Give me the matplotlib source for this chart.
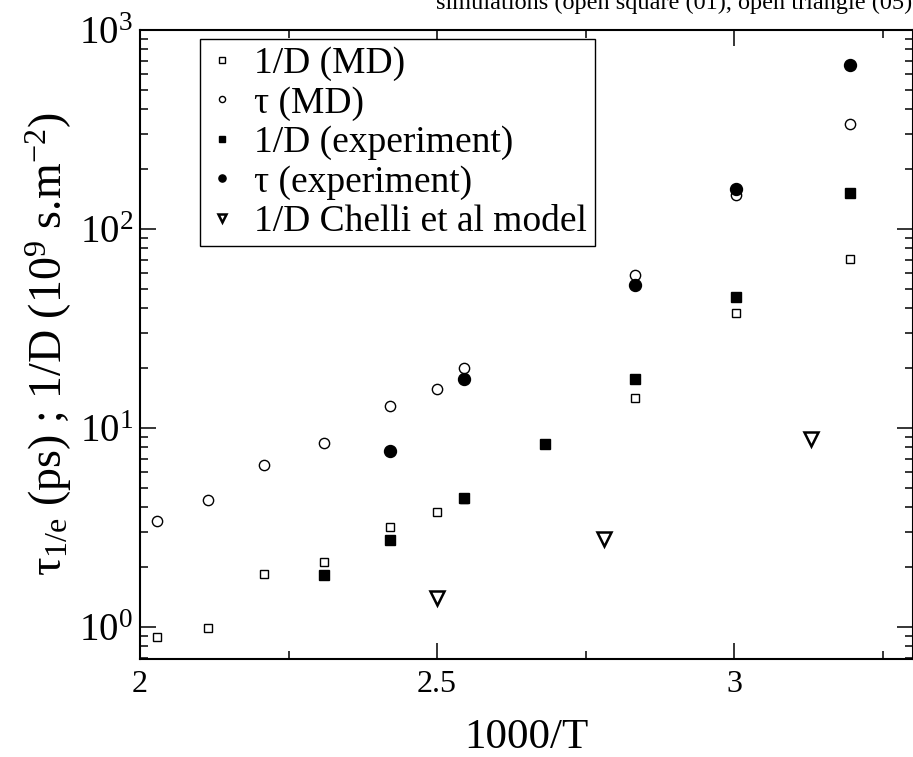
#!/usr/bin/env python3
"""
Relaxation time and inverse diffusion coefficient vs 1000/T (log y axis).

MD values (open markers), experimental values (filled markers) and the
Chelli et al model (open triangles). Writes ``out.png``.
"""

from pathlib import Path

import matplotlib

matplotlib.use("Agg")
import matplotlib.pyplot as plt
from matplotlib.ticker import FixedLocator, LogLocator, NullFormatter


# 1/D (MD), open squares
X_INVD_MD = [2.028, 2.114, 2.208, 2.309, 2.421, 2.500, 2.545, 2.833, 3.003, 3.195]
INVD_MD = [0.89, 0.99, 1.84, 2.13, 3.16, 3.79, 4.4, 14.1, 37.7, 70.5]

# tau (MD), open circles
X_TAU_MD = [2.028, 2.114, 2.208, 2.309, 2.421, 2.500, 2.545, 2.833, 3.003, 3.195]
TAU_MD = [3.39, 4.34, 6.50, 8.44, 12.9, 15.7, 19.9, 58.4, 148.0, 337.0]

# 1/D (experiment), filled squares
X_INVD_EXP = [2.309, 2.421, 2.545, 2.681, 2.833, 3.003, 3.195]
INVD_EXP = [1.82, 2.73, 4.47, 8.28, 17.6, 45.7, 151.0]

# tau (experiment), filled circles
X_TAU_EXP = [2.421, 2.545, 2.833, 3.003, 3.195]
TAU_EXP = [7.67, 17.7, 52.5, 159.0, 667.0]

# 1/D Chelli et al model, open triangles
X_CHELLI = [2.500, 2.781, 3.129]
INVD_CHELLI = [1.40, 2.77, 8.81]

LABELS = [
    "1/D (MD)",
    "τ (MD)",
    "1/D (experiment)",
    "τ (experiment)",
    "1/D Chelli et al model",
]

X_TICKS = [2.0, 2.5, 3.0]
X_TICK_LABELS = ["2", "2.5", "3"]

CAPTION = "simulations (open square (01), open triangle (05)"

OUTPUT_PNG = Path("out.png")


def build_plot(output_path: Path) -> None:
    plt.rcParams["font.family"] = ["Liberation Serif", "DejaVu Serif"]
    plt.rcParams["mathtext.fontset"] = "custom"
    plt.rcParams["mathtext.rm"] = "Liberation Serif"
    plt.rcParams["mathtext.it"] = "Liberation Serif:italic"

    fig = plt.figure(figsize=(9.13, 7.57), dpi=100)
    ax = fig.add_axes([0.1533, 0.1295, 0.8462, 0.8309])

    ax.plot(X_INVD_MD, INVD_MD, linestyle="none", marker="s", markersize=6.4,
            markerfacecolor="white", markeredgecolor="black", markeredgewidth=1.0,
            label=LABELS[0])
    ax.plot(X_TAU_MD, TAU_MD, linestyle="none", marker="o", markersize=7.4,
            markerfacecolor="white", markeredgecolor="black", markeredgewidth=1.0,
            label=LABELS[1])
    ax.plot(X_INVD_EXP, INVD_EXP, linestyle="none", marker="s", markersize=7.2,
            color="black", label=LABELS[2])
    ax.plot(X_TAU_EXP, TAU_EXP, linestyle="none", marker="o", markersize=8.6,
            color="black", label=LABELS[3])
    ax.plot(X_CHELLI, INVD_CHELLI, linestyle="none", marker="v", markersize=9.5,
            markerfacecolor="white", markeredgecolor="black", markeredgewidth=1.8,
            label=LABELS[4])

    ax.set_yscale("log")
    ax.set_xlim(2.0, 3.3)
    ax.set_ylim(0.69, 1000)

    ax.xaxis.set_major_locator(FixedLocator(X_TICKS))
    ax.xaxis.set_minor_locator(FixedLocator([2.25, 2.75, 3.25]))
    ax.set_xticklabels(X_TICK_LABELS)
    ax.yaxis.set_major_locator(LogLocator(base=10, numticks=10))
    ax.yaxis.set_minor_locator(LogLocator(base=10, subs=range(2, 10), numticks=20))
    ax.yaxis.set_minor_formatter(NullFormatter())

    ax.tick_params(which="both", direction="in", top=True, right=True, width=1.1)
    ax.tick_params(which="major", length=11.5)
    ax.tick_params(which="minor", length=5.8)
    ax.tick_params(axis="x", which="major", labelsize=23, pad=8)
    ax.tick_params(axis="y", which="major", labelsize=28, pad=5)
    for spine in ax.spines.values():
        spine.set_linewidth(1.5)

    ax.set_xlabel("1000/T", fontsize=31, labelpad=14)
    ax.set_ylabel(r"τ$_{\mathrm{1/e}}$ (ps) ; 1/D (10$^{\mathrm{9}}$ s.m$^{\mathrm{-2}}$)",
                  fontsize=33, labelpad=4)

    leg = ax.legend(
        loc="upper left",
        bbox_to_anchor=(0.0776, 0.9857),
        borderaxespad=0.0,
        fontsize=27,
        markerscale=0.6,
        handlelength=0.8,
        handletextpad=0.45,
        labelspacing=0.13,
        borderpad=0.2,
        fancybox=False,
        framealpha=1.0,
        edgecolor="black",
    )
    leg.get_frame().set_linewidth(1.0)

    # caption line from the surrounding page, cut at the top edge as in the source
    fig.text(0.999, 0.9875, CAPTION, ha="right", va="baseline", fontsize=17.5)

    fig.savefig(output_path, dpi=100)
    plt.close(fig)


def main() -> int:
    build_plot(OUTPUT_PNG)
    return 0


if __name__ == "__main__":
    raise SystemExit(main())
